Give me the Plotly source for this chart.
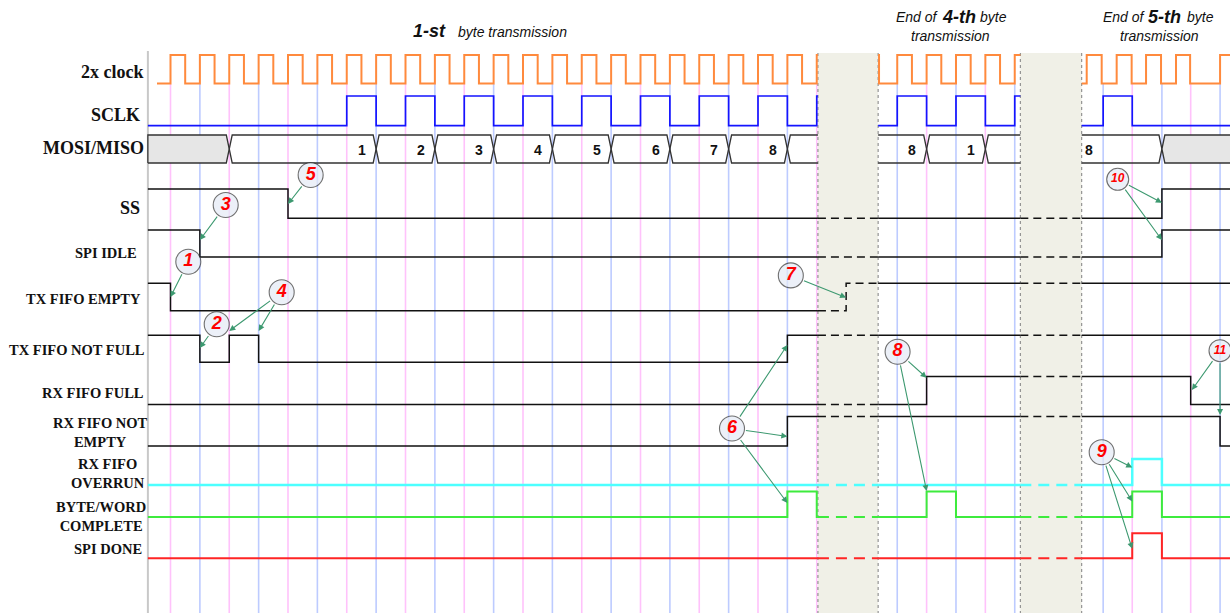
import plotly.graph_objects as go

# ===================== DATA =====================
# time unit = one period of the 2x clock, 0 = first rising edge of the 2x clock
T_START = -0.77
T_END = 36.1
SOLID_SPANS = [(-0.77, 22.04), (24.09, 28.93), (31.02, 36.1)]
GAP_SPANS = [(22.04, 24.09), (28.93, 31.02)]

GRID_PINK = [0, 2, 4, 6, 8, 10, 12, 14, 16, 18, 20, 22, 25.74, 27.74, 32.74, 34.73]
GRID_BLUE = [1, 3, 5, 7, 9, 11, 13, 15, 17, 19, 21, 24.74, 26.74, 28.74, 31.75, 33.75, 35.73]

# 2x clock: start time, start level, edge times, end time (per visible segment)
CLK_START = [-0.46, 24.09, 31.02]
CLK_START_LEVEL = [0, 1, 0]
CLK_EDGES_1 = [0, 0.5, 1, 1.5, 2, 2.5, 3, 3.5, 4, 4.5, 5, 5.5, 6, 6.5, 7, 7.5, 8, 8.5,
               9, 9.5, 10, 10.5, 11, 11.5, 12, 12.5, 13, 13.5, 14, 14.5, 15, 15.5, 16,
               16.5, 17, 17.5, 18, 18.5, 19, 19.5, 20, 20.5, 21, 21.5, 22]
CLK_EDGES_2 = [24.12, 24.74, 25.24, 25.74, 26.24, 26.74, 27.24, 27.74, 28.24, 28.74]
CLK_EDGES_3 = [31.19, 31.70, 32.21, 32.72, 33.21, 33.72, 34.23, 34.71, 35.73]
CLK_END = [22.04, 28.93, 36.1]

# SCLK
SCLK_START = [-0.77, 24.09, 31.02]
SCLK_START_LEVEL = [0, 0, 0]
SCLK_EDGES_1 = [6, 7, 8, 9, 10, 11, 12, 13, 14, 15, 16, 17, 18, 19, 20, 21, 22]
SCLK_EDGES_2 = [24.74, 25.74, 26.74, 27.74, 28.74]
SCLK_EDGES_3 = [31.75, 32.74]
SCLK_END = [22.04, 28.93, 36.1]

# MOSI/MISO bus: boundaries (crossings) and byte-bit labels per segment
BUS_BOUNDS_1 = [-0.77, 2, 7, 9, 11, 13, 15, 17, 19, 21, 22.04]
BUS_LABELS_1 = ["", "1", "2", "3", "4", "5", "6", "7", "8", ""]
BUS_GREY_1 = [True, False, False, False, False, False, False, False, False, False]
BUS_BOUNDS_2 = [24.09, 25.74, 27.74, 28.93]
BUS_LABELS_2 = ["8", "1", ""]
BUS_GREY_2 = [False, False, False]
BUS_BOUNDS_3 = [31.02, 33.75, 36.1]
BUS_LABELS_3 = ["8", ""]
BUS_GREY_3 = [False, True]

# status signals: change times and levels (1 = high)
SS_T = [-0.77, 4, 33.75];                         SS_V = [1, 0, 1]
IDLE_T = [-0.77, 1, 33.75];                       IDLE_V = [1, 0, 1]
TXE_T = [-0.77, 0, 23];                           TXE_V = [1, 0, 1]
TXNF_T = [-0.77, 1, 2, 3, 21];                    TXNF_V = [1, 0, 1, 0, 1]
RXF_T = [-0.77, 25.74, 34.73];                    RXF_V = [0, 1, 0]
RXNE_T = [-0.77, 21, 35.73];                      RXNE_V = [0, 1, 0]
OVR_T = [-0.77, 32.74, 33.75];                    OVR_V = [0, 1, 0]
BWC_T = [-0.77, 21, 22, 25.74, 26.74, 32.74, 33.75]; BWC_V = [0, 1, 0, 1, 0, 1, 0]
DONE_T = [-0.77, 32.74, 33.75];                   DONE_V = [0, 1, 0]

# callouts: number, circle position (time, y), arrow targets (time, y)
CALLOUT_NUM = ["1", "2", "3", "4", "5", "6", "7", "8", "9", "10", "11"]
CALLOUT_T = [0.606, 1.573, 1.879, 3.785, 4.771, 19.115, 21.117, 24.752, 31.70, 32.245, 35.728]
CALLOUT_Y = [261.7, 324.3, 205.0, 292.3, 175.0, 428.5, 275.4, 351.7, 452.2, 179.3, 350.7]
CALLOUT_TARGETS = [
    [(0, 297)],
    [(1, 348)],
    [(1, 240)],
    [(2, 331), (3, 331)],
    [(4, 204)],
    [(21, 345), (21, 436.4), (21, 503)],
    [(23, 297.5)],
    [(25.74, 377.8), (25.74, 491)],
    [(32.74, 467.5), (32.74, 501.4), (32.74, 548.8)],
    [(33.75, 202.7), (33.75, 240)],
    [(34.77, 390), (35.73, 415)],
]

# ===================== LAYOUT / STYLE =====================
W, H = 1230, 613
X0_PX, PX_PER_UNIT = 170.5, 29.375
SERIF = "Liberation Serif, Times New Roman, serif"
SANS = "Liberation Sans, Arial, sans-serif"

CLK_Y = (83.5, 55.0)      # (low, high)
SCLK_Y = (125.7, 96.0)
BUS_TOP, BUS_BOT = 135.0, 163.0
BUS_SLANT = 0.1

ROWS = [  # data, low y, high y, color, width
    (SS_T, SS_V, 218.3, 189.0, "#111111", 1.5),
    (IDLE_T, IDLE_V, 257.0, 230.0, "#111111", 1.5),
    (TXE_T, TXE_V, 310.7, 283.3, "#111111", 1.5),
    (TXNF_T, TXNF_V, 362.3, 335.3, "#111111", 1.5),
    (RXF_T, RXF_V, 404.5, 376.5, "#111111", 1.5),
    (RXNE_T, RXNE_V, 446.0, 416.5, "#111111", 1.5),
    (OVR_T, OVR_V, 485.0, 459.0, "#4DFFFF", 2.5),
    (BWC_T, BWC_V, 517.0, 491.5, "#3DEB3D", 2.0),
    (DONE_T, DONE_V, 558.3, 533.3, "#FF2525", 2.0),
]

LABELS = [  # text, x px, y px, xanchor, size
    ("2x clock", 146, 72.3, "right", 18),
    ("SCLK", 142, 115, "right", 18),
    ("MOSI/MISO", 146, 148.3, "right", 18),
    ("SS", 142, 208.3, "right", 18),
    ("SPI IDLE", 139, 253.3, "right", 14.5),
    ("TX FIFO EMPTY", 143, 299, "right", 14.5),
    ("TX FIFO NOT FULL", 146.5, 350, "right", 14.5),
    ("RX FIFO FULL", 146, 393.3, "right", 14.5),
    ("RX FIFO NOT<br>EMPTY", 100, 432, "center", 14.5),
    ("RX FIFO<br>OVERRUN", 107.5, 473, "center", 14.5),
    ("BYTE/WORD<br>COMPLETE", 100.7, 516.7, "center", 14.5),
    ("SPI DONE", 144, 549, "right", 14.5),
]


def step_pts(times, levels, t_end, ylo, yhi):
    pts, prev = [], None
    for t, v in zip(times, levels):
        y = yhi if v else ylo
        if prev is not None:
            pts.append((t, prev))
        pts.append((t, y))
        prev = y
    pts.append((t_end, prev))
    return pts


def clip(pts, a, b):
    xs, ys = [], []
    for (x1, y1), (x2, y2) in zip(pts[:-1], pts[1:]):
        if x1 == x2:
            if not (a <= x1 <= b):
                continue
            seg = [(x1, y1), (x2, y2)]
        else:
            lo, hi = max(x1, a), min(x2, b)
            if lo >= hi:
                continue
            seg = [(lo, y1), (hi, y2)]
        for p in seg:
            if xs and xs[-1] == p[0] and ys[-1] == p[1]:
                continue
            xs.append(p[0])
            ys.append(p[1])
    return xs, ys


def alternate(start_level, n):
    out, lv = [start_level], start_level
    for _ in range(n):
        lv = 1 - lv
        out.append(lv)
    return out


def to_px(t):
    return X0_PX + t * PX_PER_UNIT


fig = go.Figure()
shapes = []
annotations = []

# gap shading + borders
for a, b in GAP_SPANS:
    shapes.append(dict(type="rect", xref="x", yref="y", x0=a, x1=b, y0=53, y1=H,
                       fillcolor="#F0F0E7", line=dict(width=0), layer="below"))
# grid lines
for g in GRID_PINK:
    shapes.append(dict(type="line", xref="x", yref="y", x0=g, x1=g, y0=84, y1=H,
                       line=dict(color="#FFC2FB", width=1.6), layer="below"))
for g in GRID_BLUE:
    shapes.append(dict(type="line", xref="x", yref="y", x0=g, x1=g, y0=84, y1=H,
                       line=dict(color="#BDCBFF", width=1.6), layer="below"))
for a, b in GAP_SPANS:
    for x in (a, b):
        shapes.append(dict(type="line", xref="x", yref="y", x0=x, x1=x, y0=53, y1=H,
                           line=dict(color="#808080", width=1, dash="dot"), layer="below"))
# left border
shapes.append(dict(type="line", xref="x", yref="y", x0=T_START, x1=T_START, y0=51, y1=H,
                   line=dict(color="#C8C8C8", width=2), layer="below"))

# 2x clock and SCLK
clk_edges = [CLK_EDGES_1, CLK_EDGES_2, CLK_EDGES_3]
for s, e, lv0, te in zip(CLK_START, clk_edges, CLK_START_LEVEL, CLK_END):
    pts = step_pts([s] + e, alternate(lv0, len(e)), te, *CLK_Y)
    fig.add_trace(go.Scatter(x=[p[0] for p in pts], y=[p[1] for p in pts], mode="lines",
                             line=dict(color="#FF8A3D", width=2), hoverinfo="skip"))
sclk_edges = [SCLK_EDGES_1, SCLK_EDGES_2, SCLK_EDGES_3]
for s, e, lv0, te in zip(SCLK_START, sclk_edges, SCLK_START_LEVEL, SCLK_END):
    pts = step_pts([s] + e, alternate(lv0, len(e)), te, *SCLK_Y)
    fig.add_trace(go.Scatter(x=[p[0] for p in pts], y=[p[1] for p in pts], mode="lines",
                             line=dict(color="#1414FF", width=1.7), hoverinfo="skip"))

# bus
mid = (BUS_TOP + BUS_BOT) / 2
bus_sets = [(BUS_BOUNDS_1, BUS_LABELS_1, BUS_GREY_1, "flat", "right"),
            (BUS_BOUNDS_2, BUS_LABELS_2, BUS_GREY_2, "open", "right"),
            (BUS_BOUNDS_3, BUS_LABELS_3, BUS_GREY_3, "open", "left")]
s = BUS_SLANT
for bounds, labels, greys, first_kind, align in bus_sets:
    n = len(bounds) - 1
    for i in range(n):
        a, b = bounds[i], bounds[i + 1]
        lk = "cross" if i > 0 else first_kind
        rk = "cross" if i < n - 1 else "open"
        ox, oy = [], []
        if lk == "cross":
            ox += [a, a + s]; oy += [mid, BUS_TOP]
        elif lk == "flat":
            ox += [a, a]; oy += [BUS_BOT, BUS_TOP]
        else:
            ox += [a]; oy += [BUS_TOP]
        if rk == "cross":
            ox += [b - s, b, b - s]; oy += [BUS_TOP, mid, BUS_BOT]
        else:
            ox += [b, None, b]; oy += [BUS_TOP, None, BUS_BOT]
        if lk == "cross":
            ox += [a + s, a]; oy += [BUS_BOT, mid]
        else:
            ox += [a]; oy += [BUS_BOT]
        if greys[i]:
            fx = [v for v in ox if v is not None]
            fy = [v for v in oy if v is not None]
            fig.add_trace(go.Scatter(x=fx, y=fy, mode="lines", fill="toself",
                                     fillcolor="#E6E6E6", line=dict(width=0),
                                     hoverinfo="skip"))
        fig.add_trace(go.Scatter(x=ox, y=oy, mode="lines",
                                 line=dict(color="#333333", width=1.3), hoverinfo="skip"))
        if labels[i]:
            if align == "right":
                xa, xx = "right", b - 0.28
            else:
                xa, xx = "left", a + 0.06
            annotations.append(dict(x=xx, y=mid + 1, xref="x", yref="y",
                                    text="<b>%s</b>" % labels[i], showarrow=False,
                                    xanchor=xa, yanchor="middle",
                                    font=dict(family=SANS, size=14, color="#111")))

# status signals, solid in visible spans and dashed inside the gaps
for times, levels, ylo, yhi, color, width in ROWS:
    pts = step_pts(times, levels, T_END, ylo, yhi)
    for a, b in SOLID_SPANS:
        xs, ys = clip(pts, a, b)
        fig.add_trace(go.Scatter(x=xs, y=ys, mode="lines",
                                 line=dict(color=color, width=width), hoverinfo="skip"))
    dash = "8px,5px" if color == "#111111" else "11px,7px"
    for a, b in GAP_SPANS:
        xs, ys = clip(pts, a, b)
        fig.add_trace(go.Scatter(x=xs, y=ys, mode="lines",
                                 line=dict(color=color, width=width, dash=dash),
                                 hoverinfo="skip"))

# callout arrows (from circle edge to the event)
for num, ct, cy, targets in zip(CALLOUT_NUM, CALLOUT_T, CALLOUT_Y, CALLOUT_TARGETS):
    r = 12.5 if len(num) == 1 else 11
    cx = to_px(ct)
    for tt, ty in targets:
        hx = to_px(tt)
        dx, dy = hx - cx, ty - cy
        d = (dx * dx + dy * dy) ** 0.5
        tx, tyy = cx + r * dx / d, cy + r * dy / d
        annotations.append(dict(x=tt, y=ty, xref="x", yref="y", text="", showarrow=True,
                                ax=tx - hx, ay=tyy - ty, axref="pixel", ayref="pixel",
                                arrowhead=2, arrowsize=1.1, arrowwidth=1.1,
                                arrowcolor="#3D9970", standoff=0, startstandoff=0))

# callout circles
fig.add_trace(go.Scatter(
    x=CALLOUT_T, y=CALLOUT_Y, mode="markers+text",
    marker=dict(size=[25 if len(n) == 1 else 22 for n in CALLOUT_NUM],
                color="#E4EAF6", line=dict(color="#333333", width=1.1)),
    text=["<b><i>%s</i></b>" % n for n in CALLOUT_NUM], textposition="middle center",
    textfont=dict(family=SANS, color="#FF0000",
                  size=[18 if len(n) == 1 else 12 for n in CALLOUT_NUM]),
    hoverinfo="skip"))

# row labels
for text, xp, yp, xa, size in LABELS:
    annotations.append(dict(x=xp / W, y=1 - yp / H, xref="paper", yref="paper",
                            text="<b>%s</b>" % text, showarrow=False, xanchor=xa,
                            yanchor="middle", align="center",
                            font=dict(family=SERIF, size=size, color="#111")))

# titles
def ptext(txt, xp, yp, size, xa="left"):
    annotations.append(dict(x=xp / W, y=1 - yp / H, xref="paper", yref="paper", text=txt,
                            showarrow=False, xanchor=xa, yanchor="middle",
                            font=dict(family=SANS, size=size, color="#111")))

ptext("<b><i>1-st</i></b>", 410.5, 31, 18)
ptext("<i>byte transmission</i>", 456, 31.5, 14)
ptext("<i>End of</i>", 894, 17, 14)
ptext("<b><i>4-th</i></b>", 939.5, 16.5, 18)
ptext("<i>byte</i>", 978, 17, 14)
ptext("<i>transmission</i>", 950, 35.5, 14, "center")
ptext("<i>End of</i>", 1101, 17, 14)
ptext("<b><i>5-th</i></b>", 1146, 16.5, 18)
ptext("<i>byte</i>", 1185, 17, 14)
ptext("<i>transmission</i>", 1159.5, 35.5, 14, "center")

fig.update_layout(
    width=W, height=H, margin=dict(l=0, r=0, t=0, b=0),
    paper_bgcolor="white", plot_bgcolor="white", showlegend=False, hovermode=False,
    xaxis=dict(range=[(0 - X0_PX) / PX_PER_UNIT, (W - X0_PX) / PX_PER_UNIT],
               visible=False, fixedrange=True),
    yaxis=dict(range=[H, 0], visible=False, fixedrange=True),
    shapes=shapes, annotations=annotations,
)

fig.write_html("out.html", config={"displayModeBar": False},
               post_script="document.body.style.margin='0';document.body.style.overflow='hidden';")
